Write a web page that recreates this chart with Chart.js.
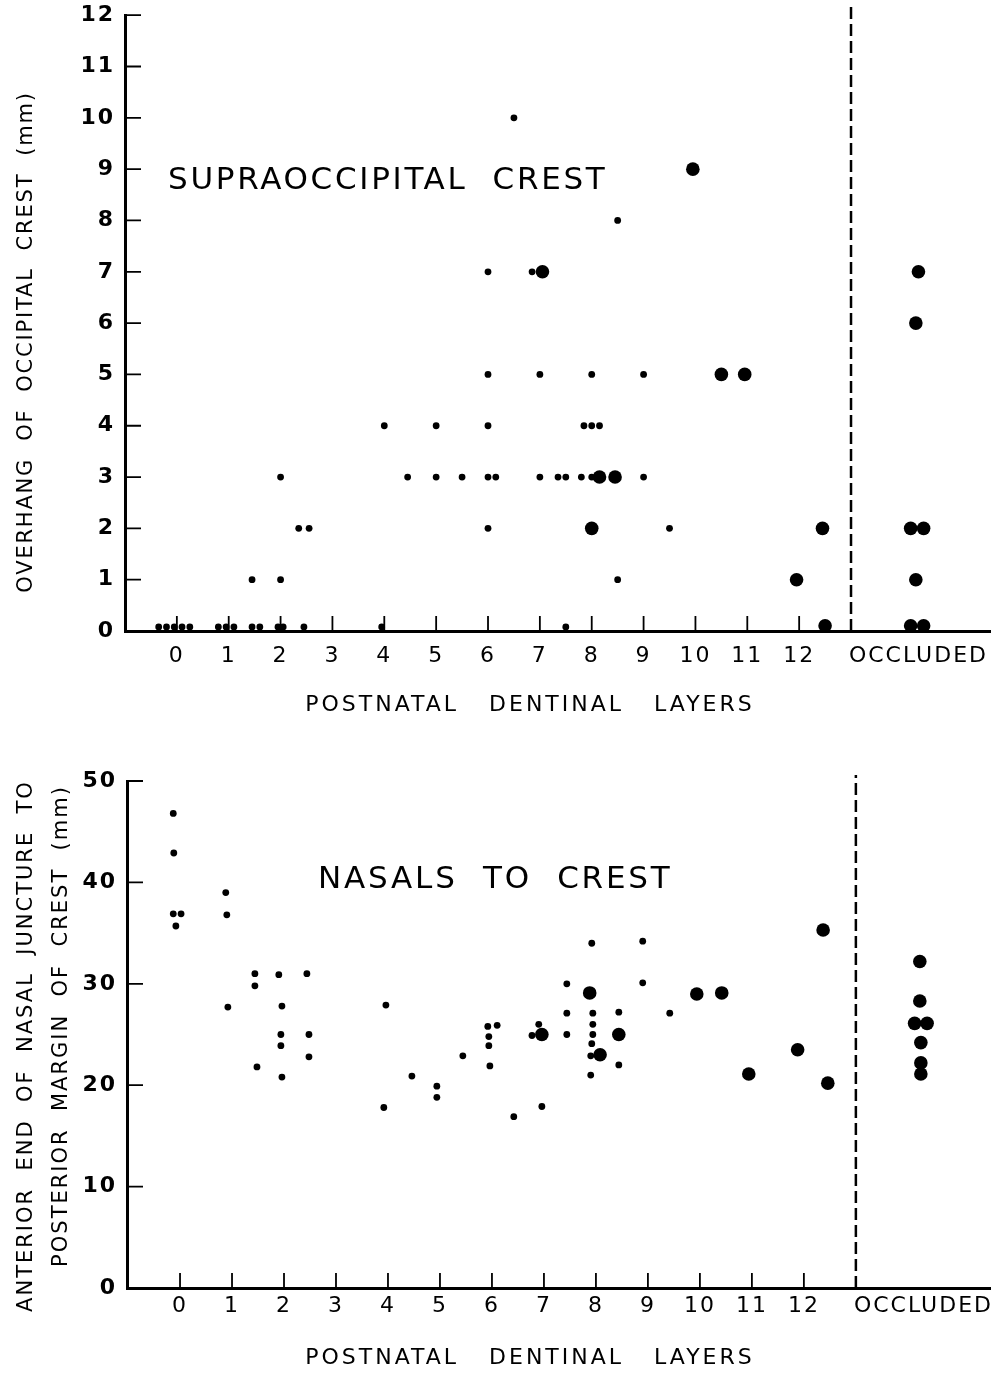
<!DOCTYPE html>
<html>
<head>
<meta charset="utf-8">
<title>Occipital crest vs. postnatal dentinal layers</title>
<script src="https://cdn.jsdelivr.net/npm/chart.js@4.4.1/dist/chart.umd.min.js"></script>
<style>
  html, body { margin: 0; padding: 0; background: #fff; }
  canvas { position: absolute; left: 0; }
  #crestChart { top: 0; }
  #nasalChart { top: 720px; }
</style>
</head>
<body>
<canvas id="crestChart" width="1000" height="720"></canvas>
<canvas id="nasalChart" width="1000" height="653"></canvas>
<script>
'use strict';

// x axis: dentinal layers, plus the occluded column past the divider
const layerTicks = [0, 1, 2, 3, 4, 5, 6, 7, 8, 9, 10, 11, 12];
const occludedPos = 14.3;
const occludedLabel = 'OCCLUDED';
const dividerPos = 13;

// y ticks
const crestTicks = [0, 1, 2, 3, 4, 5, 6, 7, 8, 9, 10, 11, 12];
const nasalTicks = [0, 10, 20, 30, 40, 50];

// supraoccipital crest - single specimens (small dots)
const crestLayers = [
    6.5, 8.5, 6, 6.85, 6, 7, 8, 9,
    4, 5, 6, 7.85, 8, 8.15,
    4.45, 5, 5.5, 6, 6.15, 7, 7.35, 7.5, 7.8, 8, 9, 2,
    2.35, 2.55, 6, 9.5,
    1.45, 2, 8.5,
    -0.35, -0.2, -0.05, 0.1, 0.25, 0.8, 0.95, 1.1, 1.45, 1.6, 1.95, 2.05, 2.45, 3.95, 7.5
];
const crestOverhang = [
    10, 8, 7, 7, 5, 5, 5, 5,
    4, 4, 4, 4, 4, 4,
    3, 3, 3, 3, 3, 3, 3, 3, 3, 3, 3, 3,
    2, 2, 2, 2,
    1, 1, 1,
    0.08, 0.08, 0.08, 0.08, 0.08, 0.08, 0.08, 0.08, 0.08, 0.08, 0.08, 0.08, 0.08, 0.08, 0.08
];

// supraoccipital crest - large dots
const crestLayersLarge = [7.05, 8.15, 8.45, 8, 9.95, 10.5, 10.95, 11.95, 12.45, 12.5, 14.3, 14.25, 14.15, 14.4, 14.25, 14.15, 14.4];
const crestOverhangLarge = [7, 3, 3, 2, 9, 5, 5, 1, 2, 0.1, 7, 6, 2, 2, 1, 0.1, 0.1];

// nasals to crest - small dots
const nasalLayers = [
    -0.13, -0.12, -0.13, 0.02, -0.08,
    0.88, 0.9, 0.92,
    1.44, 1.44, 1.48,
    1.9, 1.96, 1.94, 1.94, 1.96,
    2.44, 2.48, 2.48,
    3.96, 4.46, 3.92,
    4.94, 4.94, 5.44,
    5.92, 6.1, 5.94, 5.94, 5.96,
    6.42, 6.96, 6.9, 6.77,
    7.44, 7.44, 7.44,
    7.92, 7.94, 7.94, 7.94, 7.92, 7.9, 7.9,
    8.44, 8.44,
    8.9, 8.9, 9.42
];
const nasalLength = [
    46.8, 42.9, 36.9, 36.9, 35.7,
    39, 36.8, 27.7,
    31, 29.8, 21.8,
    30.9, 27.8, 25, 23.9, 20.8,
    31, 25, 22.8,
    27.9, 20.9, 17.8,
    19.9, 18.8, 22.9,
    25.8, 25.9, 24.8, 23.9, 21.9,
    16.9, 17.9, 26, 24.9,
    30, 27.1, 25,
    34, 27.1, 26, 25, 24.1, 22.9, 21,
    27.2, 22,
    34.2, 30.1, 27.1
];

// nasals to crest - large dots
const nasalLayersLarge = [6.96, 7.88, 8.08, 8.44, 9.94, 10.42, 10.94, 11.88, 12.37, 12.46, 14.23, 14.23, 14.13, 14.37, 14.25, 14.25, 14.25];
const nasalLengthLarge = [25, 29.1, 23, 25, 29, 29.1, 21.1, 23.5, 35.3, 20.2, 32.2, 28.3, 26.1, 26.1, 24.2, 22.2, 21.1];

const FONT = '"DejaVu Sans", sans-serif';

const toPoints = (xs, ys) => xs.map((x, i) => ({ x: x, y: ys[i] }));

// short tick marks pointing into the plot
const inwardTicks = {
    id: 'inwardTicks',
    afterDraw(chart) {
        const { ctx, scales: { x, y } } = chart;
        ctx.save();
        ctx.strokeStyle = '#000';
        ctx.lineWidth = 1.8;
        ctx.beginPath();
        y.ticks.forEach(t => {
            const py = y.getPixelForValue(t.value);
            ctx.moveTo(y.right, py);
            ctx.lineTo(y.right + 16, py);
        });
        layerTicks.forEach(v => {
            const px = x.getPixelForValue(v);
            ctx.moveTo(px, x.top);
            ctx.lineTo(px, x.top - 15);
        });
        ctx.stroke();
        ctx.restore();
    }
};

// free lettering: plot titles and axis titles
function lettering(items) {
    return {
        id: 'lettering',
        beforeDraw(chart) {
            chart.ctx.letterSpacing = '2px';
        },
        afterDraw(chart) {
            const ctx = chart.ctx;
            items.forEach(item => {
                ctx.save();
                ctx.translate(item.x, item.y);
                if (item.rotate) ctx.rotate(item.rotate);
                ctx.font = item.size + 'px ' + FONT;
                ctx.letterSpacing = item.spacing + 'px';
                ctx.textAlign = item.align || 'center';
                ctx.textBaseline = 'middle';
                ctx.fillStyle = '#000';
                ctx.fillText(item.text, 0, 0);
                ctx.restore();
            });
        }
    };
}

function makeChart(canvasId, s) {
    return new Chart(document.getElementById(canvasId), {
        type: 'scatter',
        data: {
            datasets: [{
                type: 'line',
                data: [{ x: dividerPos, y: 0 }, { x: dividerPos, y: s.dividerTop }],
                borderColor: '#000',
                borderWidth: 2.5,
                borderDash: [12, 5],
                pointRadius: 0,
                clip: false
            }, {
                data: s.small,
                backgroundColor: '#000',
                borderWidth: 0,
                pointRadius: 3.4
            }, {
                data: s.large,
                backgroundColor: '#000',
                borderWidth: 0,
                pointRadius: 6.8
            }]
        },
        options: {
            responsive: false,
            devicePixelRatio: 1,
            animation: false,
            events: [],
            layout: { padding: { top: s.top, right: 10, left: 0, bottom: 0 } },
            plugins: { legend: { display: false }, tooltip: { enabled: false } },
            scales: {
                x: {
                    type: 'linear',
                    min: s.xMin,
                    max: s.xMax,
                    grid: { display: false },
                    border: { display: true, color: '#000', width: 3 },
                    afterBuildTicks: scale => {
                        scale.ticks = layerTicks.map(v => ({ value: v })).concat([{ value: occludedPos }]);
                    },
                    afterFit: scale => { scale.height = s.xHeight; },
                    ticks: {
                        autoSkip: false,
                        maxRotation: 0,
                        padding: s.xPad,
                        color: '#000',
                        font: { family: FONT, size: 22 },
                        callback: v => (v === occludedPos ? occludedLabel : String(v))
                    }
                },
                y: {
                    min: s.yTicks[0],
                    max: s.yTicks[s.yTicks.length - 1],
                    grid: { display: false },
                    border: { display: true, color: '#000', width: 3 },
                    afterBuildTicks: scale => {
                        scale.ticks = s.yTicks.map(v => ({ value: v }));
                    },
                    afterFit: scale => { scale.width = s.yWidth; },
                    ticks: {
                        padding: 2,
                        color: '#000',
                        font: { family: FONT, size: 22, weight: 'bold' }
                    }
                }
            }
        },
        plugins: [inwardTicks, lettering(s.texts)]
    });
}

// Supraoccipital crest
makeChart('crestChart', {
    small: toPoints(crestLayers, crestOverhang),
    large: toPoints(crestLayersLarge, crestOverhangLarge),
    yTicks: crestTicks,
    xMin: -1.0,
    xMax: 15.68,
    top: 13,
    xHeight: 89,
    yWidth: 125,
    xPad: 4,
    dividerTop: 12.16,
    texts: [
        { text: 'SUPRAOCCIPITAL  CREST', x: 168, y: 181, size: 31, spacing: 2.7, align: 'left' },
        { text: 'OVERHANG  OF  OCCIPITAL  CREST  (mm)', x: 27, y: 342, size: 21, spacing: 1.8, rotate: -Math.PI / 2 },
        { text: 'POSTNATAL   DENTINAL   LAYERS', x: 530, y: 705, size: 22, spacing: 3 }
    ]
});

// Nasals to crest
makeChart('nasalChart', {
    small: toPoints(nasalLayers, nasalLength),
    large: toPoints(nasalLayersLarge, nasalLengthLarge),
    yTicks: nasalTicks,
    xMin: -1.02,
    xMax: 15.58,
    top: 61,
    xHeight: 85,
    yWidth: 127,
    xPad: -3,
    dividerTop: 50.6,
    texts: [
        { text: 'NASALS  TO  CREST', x: 318, y: 160, size: 31, spacing: 2.8, align: 'left' },
        { text: 'ANTERIOR  END  OF  NASAL  JUNCTURE  TO', x: 27, y: 326, size: 21, spacing: 2, rotate: -Math.PI / 2 },
        { text: 'POSTERIOR  MARGIN  OF  CREST  (mm)', x: 62, y: 306, size: 21, spacing: 2, rotate: -Math.PI / 2 },
        { text: 'POSTNATAL   DENTINAL   LAYERS', x: 530, y: 638, size: 22, spacing: 3 }
    ]
});
</script>
</body>
</html>
